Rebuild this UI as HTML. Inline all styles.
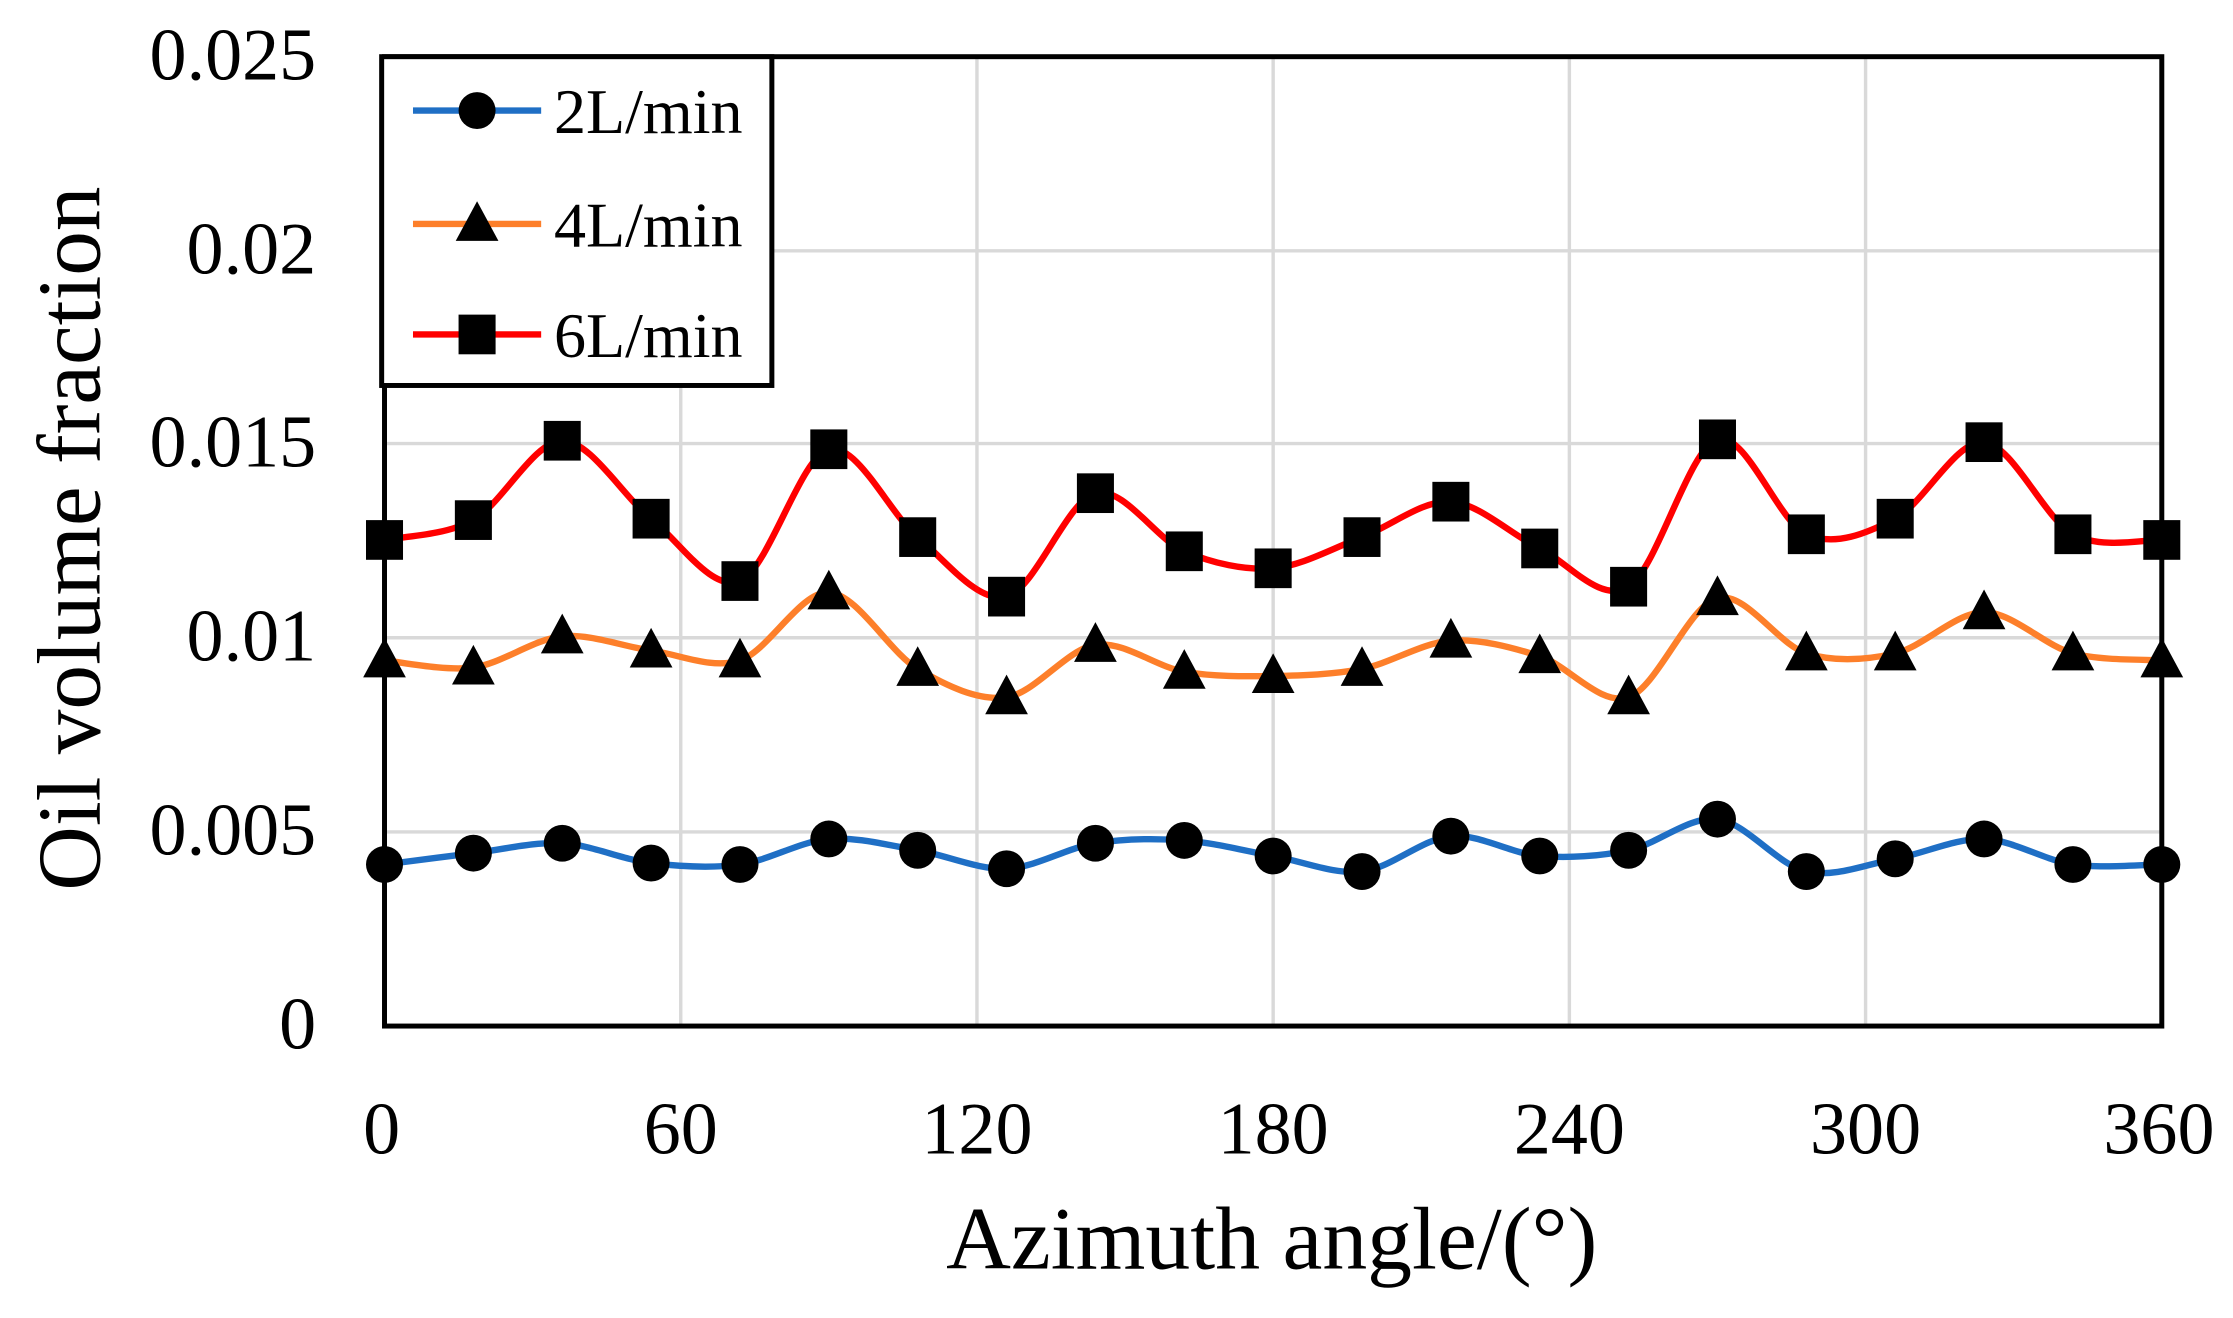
<!DOCTYPE html>
<html><head><meta charset="utf-8"><style>
html,body{margin:0;padding:0;background:#fff;}
svg{display:block;}
text{font-family:"Liberation Serif",serif;fill:#000;}
</style></head><body>
<svg id="s" width="2233" height="1318" viewBox="0 0 1568 930" preserveAspectRatio="none" xmlns="http://www.w3.org/2000/svg">
<rect width="1568" height="930" fill="#fff"/>
<g stroke="#d9d9d9" stroke-width="2.4">
<line x1="478" y1="40" x2="478" y2="724"/><line x1="686" y1="40" x2="686" y2="724"/>
<line x1="894" y1="40" x2="894" y2="724"/><line x1="1102" y1="40" x2="1102" y2="724"/>
<line x1="1310" y1="40" x2="1310" y2="724"/>
<line x1="270" y1="587" x2="1518" y2="587"/><line x1="270" y1="450" x2="1518" y2="450"/>
<line x1="270" y1="313" x2="1518" y2="313"/><line x1="270" y1="177" x2="1518" y2="177"/>
</g>
<g id="series"></g>
<rect x="270" y="40" width="1248" height="684" fill="none" stroke="#000" stroke-width="3.5"/>
<g font-size="52" text-anchor="end">
<text x="222" y="56">0.025</text><text x="222" y="193">0.02</text><text x="222" y="329">0.015</text>
<text x="222" y="466">0.01</text><text x="222" y="603">0.005</text><text x="222" y="740">0</text>
</g>
<g font-size="52" text-anchor="middle">
<text x="268" y="814">0</text><text x="478" y="814">60</text><text x="686" y="814">120</text>
<text x="894" y="814">180</text><text x="1102" y="814">240</text><text x="1310" y="814">300</text><text x="1516" y="814">360</text>
</g>
<text x="893" y="895" font-size="63" text-anchor="middle">Azimuth angle/(°)</text>
<text transform="translate(70,380) rotate(-90)" font-size="63" text-anchor="middle">Oil volume fraction</text>
<rect x="268" y="40" width="274" height="232" fill="#fff" stroke="#000" stroke-width="3.5"/>
<line x1="290" y1="78" x2="380" y2="78" stroke="#1f6fc5" stroke-width="4.5"/>
<circle cx="335" cy="78" r="13"/>
<line x1="290" y1="158" x2="380" y2="158" stroke="#fd7f2a" stroke-width="4.5"/>
<polygon points="335,142 350,170 320,170"/>
<line x1="290" y1="236" x2="380" y2="236" stroke="#ff0000" stroke-width="4.5"/>
<rect x="322" y="222" width="26" height="28"/>
<g font-size="45"><text x="389" y="94">2L/min</text><text x="389" y="174">4L/min</text><text x="389" y="252">6L/min</text></g>
</svg>
<script>
const NS="http://www.w3.org/2000/svg";
const g=document.getElementById("series");
const xs=i=>270+i*1248/20;
const d2=[610,602,595,609,610,592,600,613,595,593,604,615,590,604,600,578,615,606,592,610,610];
const d4=[466,471,449,459,466,418,472,492,455,474,477,472,452,463,492,422,461,461,432,461,466];
const d6=[381,367,311,366,410,317,379,421,348,389,401,379,354,387,414,310,377,366,312,377,381];
function path(ys){
 const p=ys.map((y,i)=>[xs(i),y]);let d="M"+p[0][0]+","+p[0][1];
 const t=0.16;
 for(let i=0;i<p.length-1;i++){
  const p0=p[Math.max(0,i-1)],p1=p[i],p2=p[i+1],p3=p[Math.min(p.length-1,i+2)];
  const c1=[p1[0]+(p2[0]-p0[0])*t,p1[1]+(p2[1]-p0[1])*t];
  const c2=[p2[0]-(p3[0]-p1[0])*t,p2[1]-(p3[1]-p1[1])*t];
  d+=" C"+c1+" "+c2+" "+p2;
 }return d;}
function add(ys,col,shape){
 const pa=document.createElementNS(NS,"path");
 pa.setAttribute("d",path(ys));pa.setAttribute("fill","none");pa.setAttribute("stroke",col);pa.setAttribute("stroke-width","4.5");
 g.appendChild(pa);
 ys.forEach((y,i)=>{const x=xs(i);let e;
  if(shape=="c"){e=document.createElementNS(NS,"circle");e.setAttribute("cx",x);e.setAttribute("cy",y);e.setAttribute("r",13);}
  else if(shape=="t"){e=document.createElementNS(NS,"polygon");e.setAttribute("points",`${x},${y-16} ${x+15},${y+12} ${x-15},${y+12}`);}
  else{e=document.createElementNS(NS,"rect");e.setAttribute("x",x-13);e.setAttribute("y",y-14);e.setAttribute("width",26);e.setAttribute("height",28);}
  g.appendChild(e);});
}
add(d2,"#1f6fc5","c");add(d4,"#fd7f2a","t");add(d6,"#ff0000","s");
</script>
</body></html>
